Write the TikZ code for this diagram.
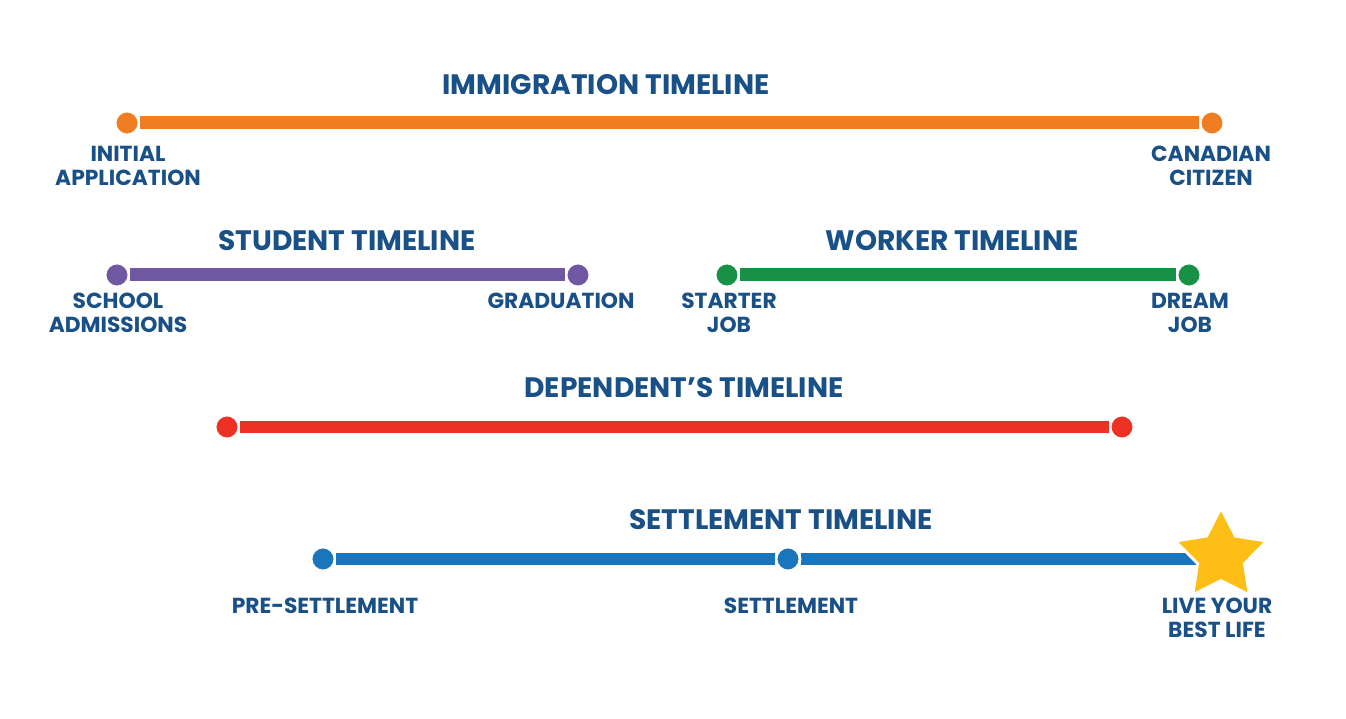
\documentclass[tikz,border=0pt]{standalone}
\usepackage{fontspec}
\setmainfont{Poppins}
\usetikzlibrary{shapes.geometric,backgrounds}

\definecolor{txtblue}{RGB}{24,80,135}
\definecolor{imorange}{RGB}{241,125,35}
\definecolor{stpurple}{RGB}{113,88,162}
\definecolor{wkgreen}{RGB}{22,145,70}
\definecolor{dpred}{RGB}{237,49,36}
\definecolor{stblue}{RGB}{25,118,189}
\definecolor{staryellow}{RGB}{253,190,22}

\tikzset{
  dot/.style={circle,fill=#1,draw=white,line width=1.6pt,inner sep=0pt,minimum size=0.48cm},
  bar/.style={draw=#1,line width=0.26cm},
  heading/.style={text=txtblue,font=\bfseries\fontsize{16}{18}\selectfont},
  stage/.style={text=txtblue,font=\bfseries\fontsize{12.4}{13.8}\selectfont,align=center},
}

\begin{document}
\begin{tikzpicture}[x=0.02cm,y=-0.02cm]
        \useasboundingbox (0,0) rectangle (1346,719);
        % immigration
        \node[heading] (imT) at (606,85) {IMMIGRATION TIMELINE};
        \node[dot=imorange] (imA) at (127,123) {};
        \node[dot=imorange] (imB) at (1212,123) {};
        \draw[bar=imorange] (imA) -- (imB);
        \node[stage] (imAl) at (128,166) {INITIAL\\APPLICATION};
        \node[stage] (imBl) at (1211,166) {CANADIAN\\CITIZEN};
        % student
        \node[heading] (stT) at (347,241) {STUDENT TIMELINE};
        \node[dot=stpurple] (stA) at (117,275) {};
        \node[dot=stpurple] (stB) at (578,275) {};
        \draw[bar=stpurple] (stA) -- (stB);
        \node[stage] (stAl) at (118,313) {SCHOOL\\ADMISSIONS};
        \node[stage] (stBl) at (561,301) {GRADUATION};
        % worker
        \node[heading] (wkT) at (952,241) {WORKER TIMELINE};
        \node[dot=wkgreen] (wkA) at (727,275) {};
        \node[dot=wkgreen] (wkB) at (1189,275) {};
        \draw[bar=wkgreen] (wkA) -- (wkB);
        \node[stage] (wkAl) at (729,313) {STARTER\\JOB};
        \node[stage] (wkBl) at (1190,313) {DREAM\\JOB};
        % dependent
        \node[heading] (dpT) at (684,388) {DEPENDENT’S TIMELINE};
        \node[dot=dpred] (dpA) at (227,427) {};
        \node[dot=dpred] (dpB) at (1122,427) {};
        \draw[bar=dpred] (dpA) -- (dpB);
        % settlement
        \node[heading] (seT) at (781,520) {SETTLEMENT TIMELINE};
        \node[dot=stblue] (seA) at (323,559) {};
        \node[dot=stblue] (seB) at (788,559) {};
        \coordinate (seE) at (1212,559);
        \node[star,star points=5,star point ratio=1.95,fill=staryellow,draw=white,
              line width=1.6pt,minimum size=1.92cm,inner sep=0pt] (seC) at (1221,556) {};
        \draw[bar=stblue] (seA) -- (seB);
        \begin{scope}[on background layer]
          \draw[bar=stblue] (seB) -- (seE);
        \end{scope}
        \node[stage] (seAl) at (325,606) {PRE-SETTLEMENT};
        \node[stage] (seBl) at (791,606) {SETTLEMENT};
        \node[stage] (seCl) at (1217,618) {LIVE YOUR\\BEST LIFE};
      \end{tikzpicture}
\end{document}
